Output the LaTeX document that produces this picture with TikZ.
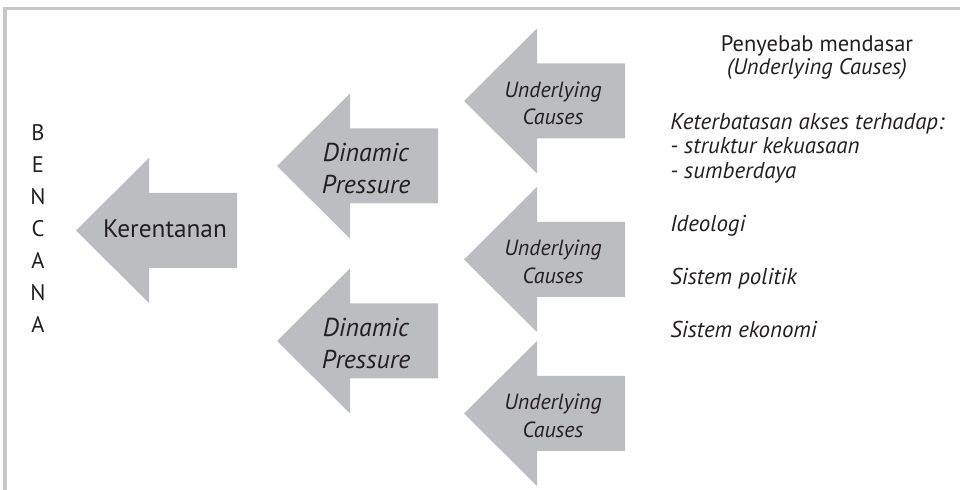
\documentclass[tikz,border=0pt]{standalone}
\usepackage{fontspec}
\setmainfont{PT Sans}
\usepackage{xcolor}
\usetikzlibrary{positioning,calc}

\definecolor{arrowgray}{RGB}{188,189,192}
\definecolor{framegray}{RGB}{200,200,202}
\definecolor{textblack}{RGB}{35,31,32}

\tikzset{
  fatarrow/.pic={
    \fill[arrowgray] (0,0) -- (73,-72.5) -- (73,-37.5) -- (161,-37.5)
      -- (161,37.5) -- (73,37.5) -- (73,72.5) -- cycle;
  },
  arrowtext/.style={font=\fontsize{18.4}{22.5}\selectfont\itshape,
    align=center,inner sep=0pt,anchor=base,text=textblack},
  causetext/.style={arrowtext,font=\fontsize{15.6}{19.9}\selectfont\itshape},
  sidetext/.style={font=\fontsize{16.3}{17}\selectfont\itshape,
    anchor=base west,inner sep=0pt,text=textblack},
}

\begin{document}
\begin{tikzpicture}[x=0.025cm,y=-0.025cm]
  \useasboundingbox (0,0) rectangle (960,490);
  % frame (top and left only)
  \draw[framegray,line width=2.2] (5,490) -- (5,8.5) -- (960,8.5);
  % arrows, tip at the given point
  \pic at (76,230.5) {fatarrow};
  \pic at (277,166) {fatarrow};
  \pic at (277,341) {fatarrow};
  \pic at (464,101) {fatarrow};
  \pic at (464,259.5) {fatarrow};
  \pic at (464,413.5) {fatarrow};
  % arrow labels (base = last line)
  \node[arrowtext,font=\fontsize{18}{18}\selectfont]
    (kerentanan) at (165,238) {Kerentanan};
  \node[arrowtext] (dp1) at (366,193.3) {Dinamic\\Pressure};
  \node[arrowtext] (dp2) at (366,368.3) {Dinamic\\Pressure};
  \node[causetext] (uc1) at (553,125) {Underlying\\Causes};
  \node[causetext] (uc2) at (553,283.5) {Underlying\\Causes};
  \node[causetext] (uc3) at (553,437.5) {Underlying\\Causes};
  % disaster, letter by letter
  \node[arrowtext,font=\fontsize{16}{22.76}\selectfont]
    (bencana) at (38,333) {B\\E\\N\\C\\A\\N\\A};
  % right column
  \node[arrowtext,font=\fontsize{16}{17}\selectfont]
    (title) at (817,75) {\lineskiplimit=-50pt\relax
      Penyebab mendasar\\\textit{(Underlying Causes)}};
  \node[sidetext] (akses) at (670,130) {Keterbatasan akses terhadap:};
  \node[sidetext] (struktur) at (670,154) {- struktur kekuasaan};
  \node[sidetext] (sumber) at (670,179) {- sumberdaya};
  \node[sidetext] (ideologi) at (670,232) {Ideologi};
  \node[sidetext] (politik) at (670,285) {Sistem politik};
  \node[sidetext] (ekonomi) at (670,338) {Sistem ekonomi};
\end{tikzpicture}
\end{document}
